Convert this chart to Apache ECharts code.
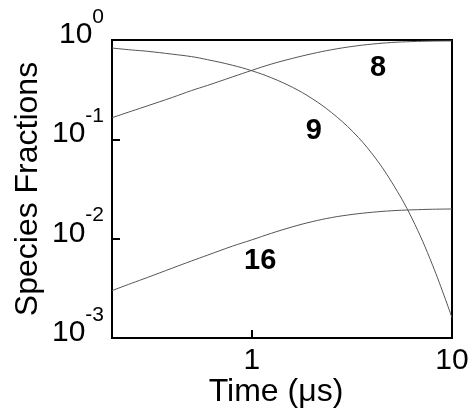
<!DOCTYPE html>
<html>
<head>
<meta charset="utf-8">
<script src="https://cdn.jsdelivr.net/npm/echarts@6/dist/echarts.min.js"></script>
<style>
html,body{margin:0;padding:0;background:#fff;}
#chart{width:475px;height:413px;}
</style>
</head>
<body>
<div id="chart"></div>
<script>
// Time (μs)
var times = [0.2, 0.25, 0.3, 0.4, 0.5, 0.6, 0.8, 1, 1.25, 1.6, 2, 2.5, 3.2, 4, 5, 6.3, 8, 10];
// Species 8 (rising)
var species8 = [0.165, 0.192, 0.217, 0.264, 0.31, 0.349, 0.425, 0.495, 0.572, 0.654, 0.728, 0.798, 0.863, 0.91, 0.944, 0.964, 0.975, 0.979];
// Species 9 (decaying)
var species9 = [0.83, 0.794, 0.77, 0.72, 0.68, 0.634, 0.557, 0.49, 0.417, 0.333, 0.257, 0.186, 0.119, 0.071, 0.037, 0.0161, 0.0054, 0.0016];
// Species 16 (small)
var species16 = [0.0030, 0.00355, 0.00406, 0.00505, 0.00597, 0.00682, 0.00841, 0.00973, 0.01132, 0.01318, 0.01483, 0.0163, 0.01758, 0.01845, 0.0191, 0.0195, 0.01977, 0.0199];
// Curve labels: [time, fraction, text]
var curveLabels = [[4.27, 0.526, '8'], [2.04, 0.122, '9'], [1.1, 0.0059, '16']];
var xTickLabels = ['1', '10'];

function pairs(ys) { return times.map(function (t, i) { return [t, ys[i]]; }); }

var FONT = '"Liberation Sans", Arial, Helvetica, sans-serif';
var lineStyle = { color: '#555', width: 1 };

var chart = echarts.init(document.getElementById('chart'), null, { renderer: 'canvas' });
chart.setOption({
  animation: false,
  backgroundColor: '#fff',
  grid: { left: 112, right: 23, top: 40, bottom: 72, show: true, borderColor: '#000', borderWidth: 2, backgroundColor: 'transparent' },
  xAxis: {
    type: 'log', logBase: 10, min: 0.2, max: 10,
    name: 'Time (μs)', nameLocation: 'middle', nameGap: 38, nameMoveOverlap: false,
    nameTextStyle: { fontSize: 32, color: '#000', fontFamily: FONT, padding: [0, 12, 0, 0] },
    axisLine: { lineStyle: { color: '#000', width: 2 } },
    axisTick: { inside: true, length: 8, lineStyle: { color: '#000', width: 2 } },
    minorTick: { show: false },
    splitLine: { show: false },
    axisLabel: {
      fontSize: 30, color: '#000', fontFamily: FONT, margin: 5, padding: [3, 0, 0, 0],
      showMinLabel: false,
      formatter: function (v) {
        var s = String(Math.round(v));
        return (Math.abs(Math.log10(v) - Math.round(Math.log10(v))) < 1e-6 && xTickLabels.indexOf(s) >= 0) ? s : '';
      }
    }
  },
  yAxis: {
    type: 'log', logBase: 10, min: 0.001, max: 1,
    name: 'Species Fractions', nameLocation: 'middle', nameGap: 68, nameRotate: 90, nameMoveOverlap: false,
    nameTextStyle: { fontSize: 32, color: '#000', fontFamily: FONT },
    axisLine: { lineStyle: { color: '#000', width: 2 } },
    axisTick: { inside: true, length: 8, lineStyle: { color: '#000', width: 2 } },
    splitLine: { show: false },
    axisLabel: {
      margin: 8, padding: [0, 0, 24, 0],
      formatter: function (v) {
        var e = Math.round(Math.log10(v));
        return '{b|10}{s|' + e + '}';
      },
      rich: {
        b: { fontSize: 30, color: '#000', fontFamily: FONT, lineHeight: 43.5, verticalAlign: 'bottom' },
        s: { fontSize: 21, color: '#000', fontFamily: FONT, lineHeight: 21, verticalAlign: 'top' }
      }
    }
  },
  series: [
    { name: '8', type: 'line', data: pairs(species8), smooth: 0.4, showSymbol: false, symbol: 'none', lineStyle: lineStyle },
    { name: '9', type: 'line', data: pairs(species9), smooth: 0.4, showSymbol: false, symbol: 'none', lineStyle: lineStyle },
    { name: '16', type: 'line', data: pairs(species16), smooth: 0.4, showSymbol: false, symbol: 'none', lineStyle: lineStyle }
  ]
});

var texts = curveLabels.map(function (c) {
  var p = chart.convertToPixel({ gridIndex: 0 }, [c[0], c[1]]);
  return {
    type: 'text', x: p[0], y: p[1],
    style: { text: c[2], fill: '#000', fontSize: 29, fontWeight: 'bold', fontFamily: FONT, align: 'center', verticalAlign: 'middle' }
  };
});
chart.setOption({ graphic: texts });
</script>
</body>
</html>
